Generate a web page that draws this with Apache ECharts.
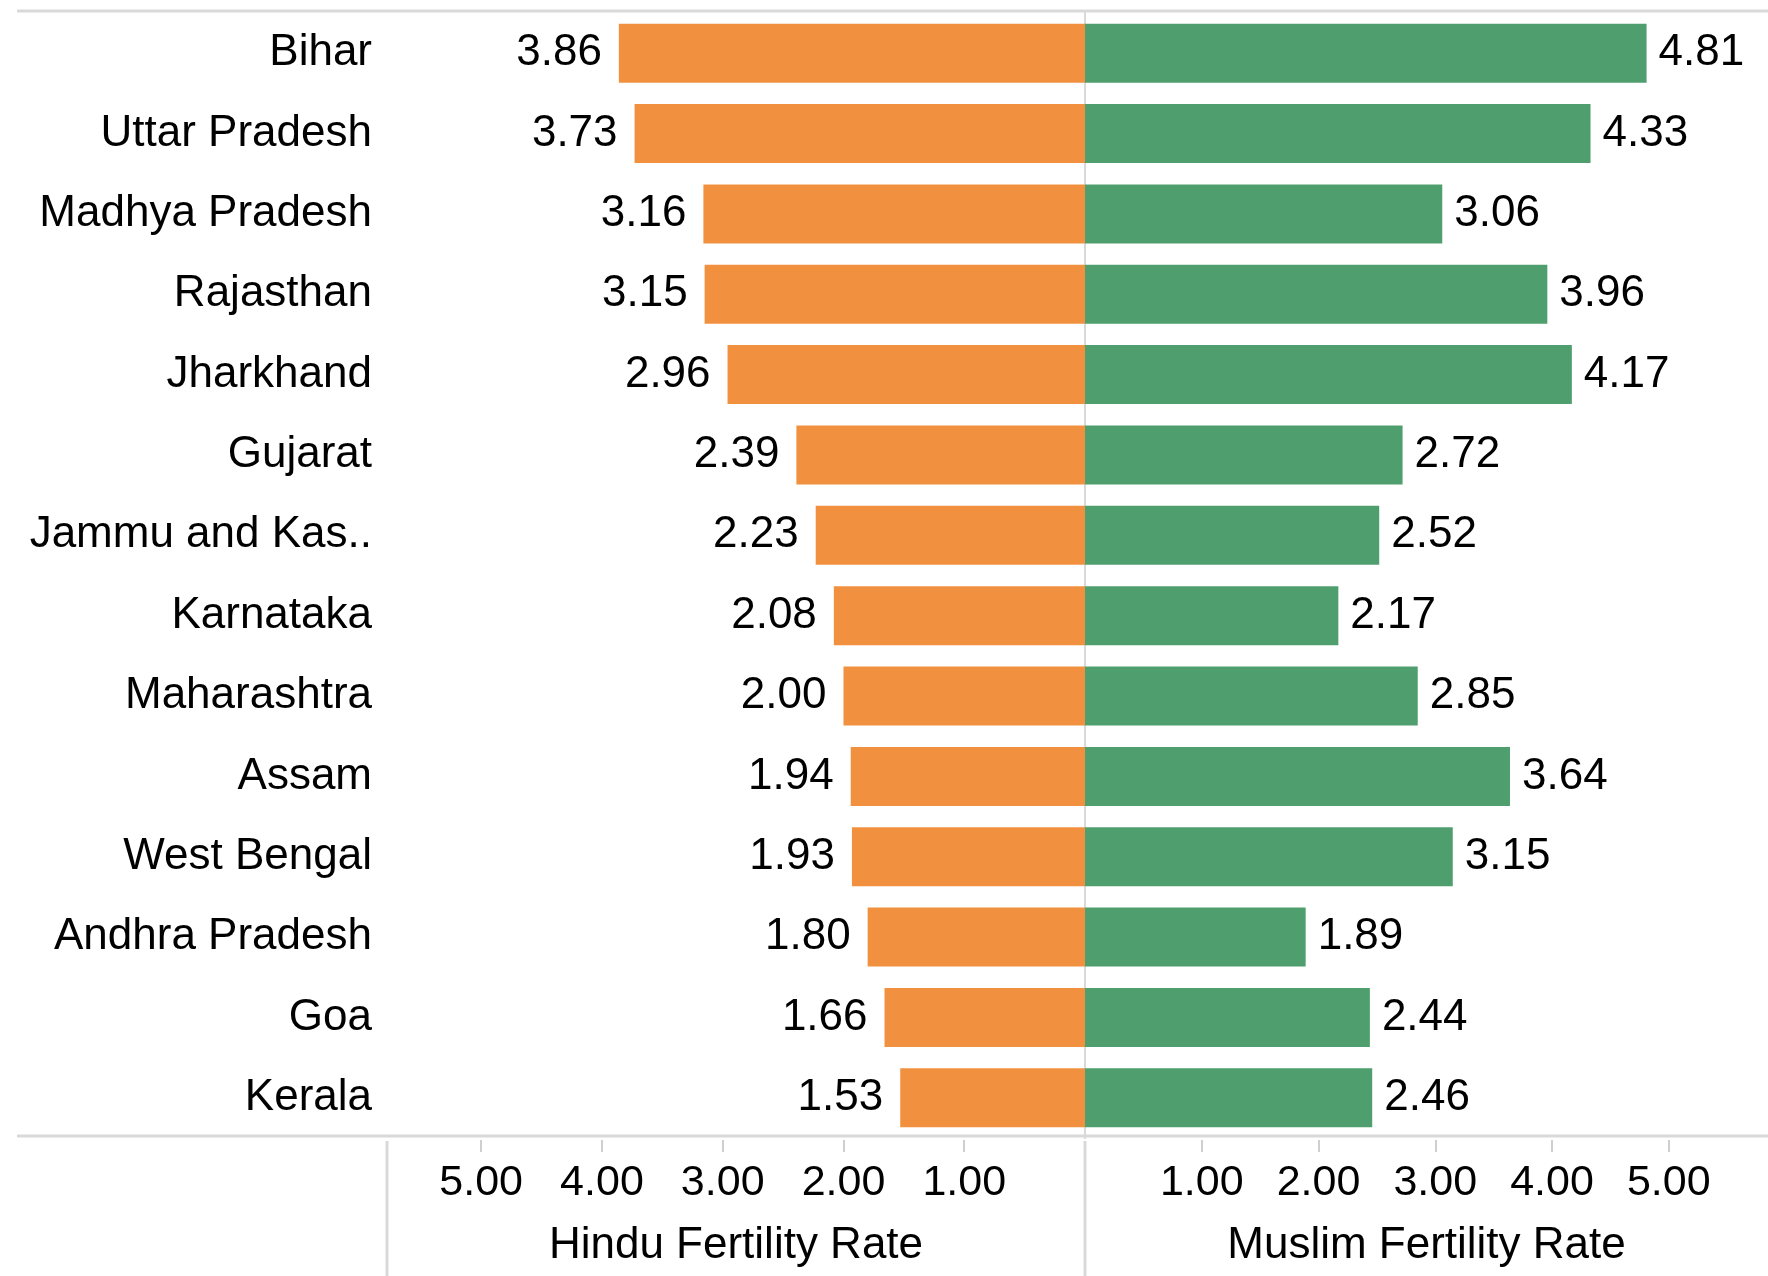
<!DOCTYPE html>
<html>
<head>
<meta charset="utf-8">
<title>Hindu vs Muslim Fertility Rate</title>
<script src="https://cdn.jsdelivr.net/npm/echarts@6/dist/echarts.min.js"></script>
<style>
  html, body { margin: 0; padding: 0; background: #fff; }
  #chart { width: 1768px; height: 1276px; }
</style>
</head>
<body>
<div id="chart"></div>
<script>
const states = ['Bihar', 'Uttar Pradesh', 'Madhya Pradesh', 'Rajasthan', 'Jharkhand', 'Gujarat',
  'Jammu and Kas..', 'Karnataka', 'Maharashtra', 'Assam', 'West Bengal', 'Andhra Pradesh', 'Goa', 'Kerala'];
const hinduRate = [3.86, 3.73, 3.16, 3.15, 2.96, 2.39, 2.23, 2.08, 2.00, 1.94, 1.93, 1.80, 1.66, 1.53];
const muslimRate = [4.81, 4.33, 3.06, 3.96, 4.17, 2.72, 2.52, 2.17, 2.85, 3.64, 3.15, 1.89, 2.44, 2.46];
const tickValues = [1, 2, 3, 4, 5];

const font = "'Liberation Sans', Arial, sans-serif";
const gridLine = '#d9d9d9';
const lineTop = 11, lineBottom = 1136, mid = 1085, split = 387;
const plotTop = 13, plotHeight = 1125;

function valueAxis(idx, inverse, max, name) {
  return {
    type: 'value', gridIndex: idx, inverse: inverse, min: 0, max: max,
    position: 'bottom', offset: 2,
    name: name, nameLocation: 'middle', nameGap: 84,
    nameTextStyle: { fontFamily: font, fontSize: 44, color: '#000' },
    axisLine: { show: false },
    splitLine: { show: false },
    axisTick: { show: true, length: 12, customValues: tickValues, lineStyle: { color: '#cfcfcf', width: 2 } },
    axisLabel: {
      customValues: tickValues, margin: 22,
      fontFamily: font, fontSize: 43, color: '#000',
      formatter: v => v.toFixed(2)
    }
  };
}

const chart = echarts.init(document.getElementById('chart'));
chart.setOption({
  animation: false,
  grid: [
    { left: split, right: 1768 - mid, top: plotTop, height: plotHeight },
    { left: mid, right: 0, top: plotTop, height: plotHeight }
  ],
  xAxis: [
    valueAxis(0, true, 5.78, 'Hindu Fertility Rate'),
    valueAxis(1, false, 5.85, 'Muslim Fertility Rate')
  ],
  yAxis: [
    {
      type: 'category', gridIndex: 0, data: states, inverse: true, position: 'left',
      axisLine: { show: true, lineStyle: { color: gridLine, width: 2 } },
      axisTick: { show: false },
      axisLabel: { fontFamily: font, fontSize: 44, color: '#000', margin: 15 }
    },
    {
      type: 'category', gridIndex: 1, data: states, inverse: true, position: 'left',
      axisLine: { show: true, lineStyle: { color: gridLine, width: 2 } },
      axisTick: { show: false },
      axisLabel: { show: false }
    }
  ],
  series: [
    {
      type: 'bar', name: 'Hindu', xAxisIndex: 0, yAxisIndex: 0, data: hinduRate,
      barWidth: 59,
      itemStyle: { color: '#f19140' },
      label: {
        show: true, position: 'left', distance: 17,
        fontFamily: font, fontSize: 44, color: '#000',
        formatter: p => p.value.toFixed(2)
      }
    },
    {
      type: 'bar', name: 'Muslim', xAxisIndex: 1, yAxisIndex: 1, data: muslimRate,
      barWidth: 59,
      itemStyle: { color: '#4f9f6e' },
      label: {
        show: true, position: 'right', distance: 12,
        fontFamily: font, fontSize: 44, color: '#000',
        formatter: p => p.value.toFixed(2)
      }
    }
  ],
  graphic: [
    { type: 'line', shape: { x1: 17, y1: lineTop, x2: 1768, y2: lineTop }, style: { stroke: gridLine, lineWidth: 3 } },
    { type: 'line', shape: { x1: 17, y1: lineBottom, x2: 1768, y2: lineBottom }, style: { stroke: gridLine, lineWidth: 3 } },
    { type: 'line', shape: { x1: split, y1: lineBottom + 5, x2: split, y2: 1276 }, style: { stroke: gridLine, lineWidth: 3 } },
    { type: 'line', shape: { x1: mid, y1: lineBottom + 5, x2: mid, y2: 1276 }, style: { stroke: gridLine, lineWidth: 3 } }
  ]
});
</script>
</body>
</html>
